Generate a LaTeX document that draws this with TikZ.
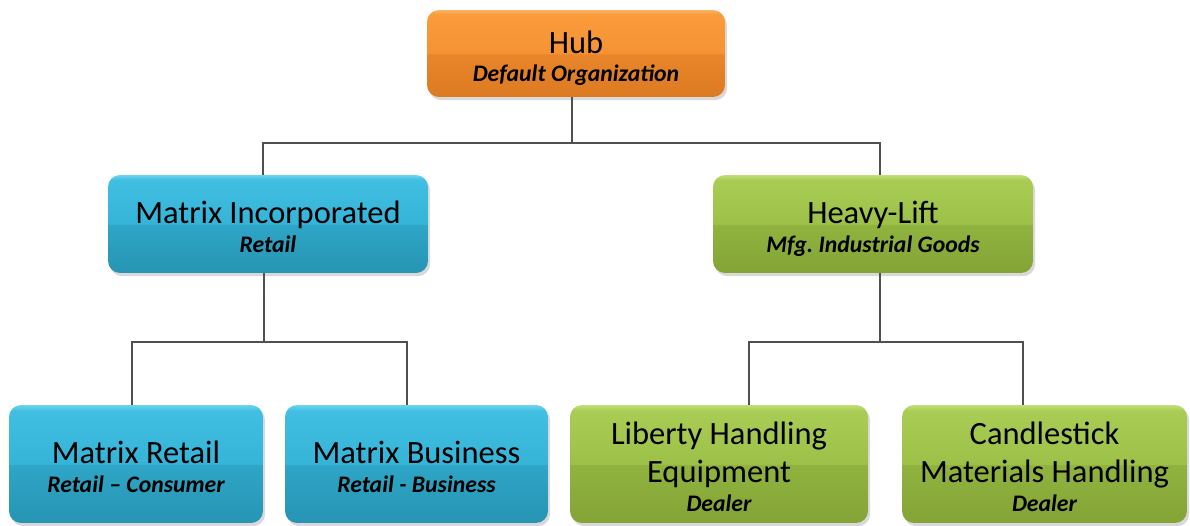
\documentclass[tikz,border=0pt]{standalone}
\usepackage{fontspec}
\setmainfont{Carlito}
\frenchspacing
\usetikzlibrary{shadows}
\definecolor{orH}{HTML}{FBB262}
\definecolor{orT}{HTML}{FA9B3C}
\definecolor{orM1}{HTML}{F59334}
\definecolor{orM2}{HTML}{E9862B}
\definecolor{orB}{HTML}{DC7A22}
\definecolor{blH}{HTML}{6CD4EE}
\definecolor{blT}{HTML}{40BFE2}
\definecolor{blM1}{HTML}{36B4D8}
\definecolor{blM2}{HTML}{2EA6C7}
\definecolor{blB}{HTML}{2794B3}
\definecolor{grH}{HTML}{C2DE76}
\definecolor{grT}{HTML}{A9CC55}
\definecolor{grM1}{HTML}{9DC049}
\definecolor{grM2}{HTML}{90B33F}
\definecolor{grB}{HTML}{84A436}
\definecolor{connc}{HTML}{505050}
\pgfdeclareverticalshading{glassor}{100bp}{color(0bp)=(orB); color(25bp)=(orB); color(49.6bp)=(orM2); color(50bp)=(orM1); color(72.5bp)=(orT); color(75bp)=(orH); color(100bp)=(orH)}
\pgfdeclareverticalshading{glassbl}{100bp}{color(0bp)=(blB); color(25bp)=(blB); color(49.6bp)=(blM2); color(50bp)=(blM1); color(72.5bp)=(blT); color(75bp)=(blH); color(100bp)=(blH)}
\pgfdeclareverticalshading{glassgr}{100bp}{color(0bp)=(grB); color(25bp)=(grB); color(49.6bp)=(grM2); color(50bp)=(grM1); color(72.5bp)=(grT); color(75bp)=(grH); color(100bp)=(grH)}
\newcommand{\ttlstrut}{\rule{0pt}{19pt}}
\newcommand{\sbt}[1]{{\fontsize{13.5}{22}\selectfont\bfseries\itshape #1\rule[-3pt]{0pt}{3pt}}}
\tikzset{
  orgbox/.style={rectangle, rounded corners=0.24cm, inner sep=0pt, align=center, text=black,
    font=\fontsize{18.5}{22}\selectfont,
    drop shadow={opacity=0.3, shadow xshift=1.2pt, shadow yshift=-1.8pt}},
  orangebox/.style={orgbox, shading=glassor},
  bluebox/.style={orgbox, shading=glassbl},
  greenbox/.style={orgbox, shading=glassgr},
  conn/.style={draw=connc, line width=0.75pt}
}
\begin{document}
\begin{tikzpicture}[x=0.02cm, y=-0.02cm]
\useasboundingbox (0,0) rectangle (1190,526);
\node[orangebox, minimum width=5.96cm, minimum height=1.74cm] (hub) at (576,53.5)
  {\ttlstrut Hub\\[-5.6pt]\sbt{Default Organization}};
\node[bluebox, minimum width=6.4cm, minimum height=1.96cm] (mi) at (268,224)
  {\ttlstrut Matrix Incorporated\\[-5.6pt]\sbt{Retail}};
\node[greenbox, minimum width=6.4cm, minimum height=1.96cm] (hl) at (873,224)
  {\ttlstrut Heavy-Lift\\[-5.6pt]\sbt{Mfg. Industrial Goods}};
\node[bluebox, minimum width=5.08cm, minimum height=2.36cm] (mr) at (136,464)
  {\ttlstrut Matrix Retail\\[-5.6pt]\sbt{Retail -- Consumer}};
\node[bluebox, minimum width=5.26cm, minimum height=2.36cm] (mb) at (416.5,464)
  {\ttlstrut Matrix Business\\[-5.6pt]\sbt{Retail - Business}};
\node[greenbox, minimum width=5.96cm, minimum height=2.36cm] (lh) at (719,464)
  {\ttlstrut Liberty Handling\\ Equipment\\[-5.6pt]\sbt{Dealer}};
\node[greenbox, minimum width=5.7cm, minimum height=2.36cm] (cm) at (1044.5,464)
  {\ttlstrut Candlestick\\ Materials Handling\\[-5.6pt]\sbt{Dealer}};
\coordinate (t0) at (572,143);
\coordinate (tl) at (263,143);
\coordinate (tr) at (880,143);
\coordinate (u0) at (264,342);
\coordinate (ul) at (132,342);
\coordinate (ur) at (407,342);
\coordinate (v0) at (880,342);
\coordinate (vl) at (749,342);
\coordinate (vr) at (1023,342);
\draw[conn] (hub.south -| t0) -- (t0);
\draw[conn] (mi.north -| tl) |- (tr) -- (hl.north -| tr);
\draw[conn] (mi.south -| u0) -- (u0);
\draw[conn] (mr.north -| ul) |- (ur) -- (mb.north -| ur);
\draw[conn] (hl.south -| v0) -- (v0);
\draw[conn] (lh.north -| vl) |- (vr) -- (cm.north -| vr);
\end{tikzpicture}
\end{document}
